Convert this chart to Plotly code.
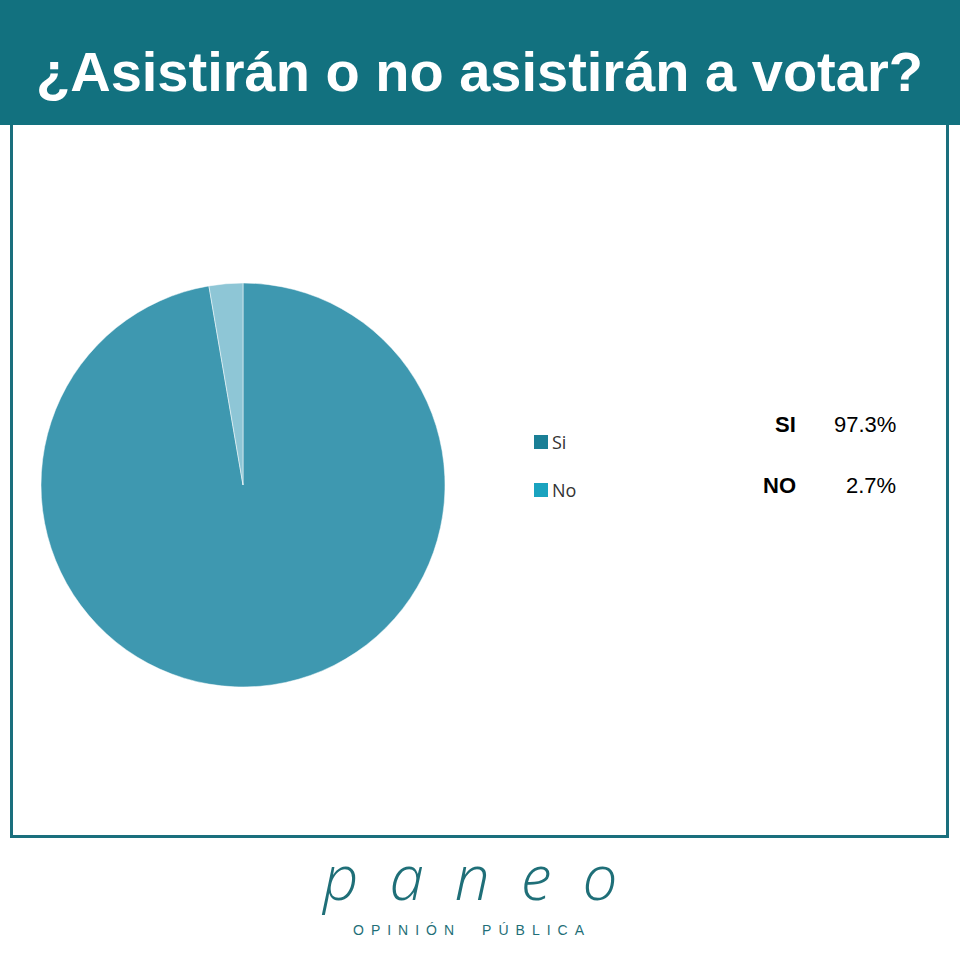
import plotly.graph_objects as go

# Data
title_text = "¿Asistirán o no asistirán a votar?"
categories = ["Si", "No"]
values = [97.3, 2.7]
summary_labels = ["SI", "NO"]
summary_values = ["97.3%", "2.7%"]
pie_colors = ["#3e98b0", "#8ec6d6"]
legend_colors = ["#1a7f96", "#1aa3bf"]
logo_text = "paneo"
logo_sub = "OPINIÓN PÚBLICA"

W = H = 960
def px(x):
    return x / W
def py(y):
    return 1 - y / H

teal = "#12717f"

fig = go.Figure()
fig.add_trace(go.Pie(
    labels=categories,
    values=values,
    sort=False,
    direction="clockwise",
    rotation=0,
    marker=dict(colors=pie_colors, line=dict(color="white", width=0.5)),
    textinfo="none",
    hoverinfo="label+percent",
    showlegend=False,
    domain=dict(x=[px(40), px(446)], y=[py(687), py(283)]),
))

shapes = [
    dict(type="rect", xref="paper", yref="paper", x0=0, x1=1, y0=py(125), y1=1,
         fillcolor=teal, line=dict(width=0), layer="below"),
    dict(type="line", xref="paper", yref="paper", x0=px(11.5), x1=px(11.5), y0=py(125), y1=py(837),
         line=dict(color="#1a6f7d", width=3)),
    dict(type="line", xref="paper", yref="paper", x0=px(947.5), x1=px(947.5), y0=py(125), y1=py(837),
         line=dict(color="#1a6f7d", width=3)),
    dict(type="line", xref="paper", yref="paper", x0=px(10), x1=px(949), y0=py(836.5), y1=py(836.5),
         line=dict(color="#1a6f7d", width=3)),
]

annotations = [
    dict(text="<b>" + title_text + "</b>", xref="paper", yref="paper", x=px(479), y=py(72),
         xanchor="center", yanchor="middle", showarrow=False,
         font=dict(family="Liberation Sans, Arial", size=56, color="white")),
]

legend_y = [442, 490]
for i, cat in enumerate(categories):
    shapes.append(dict(type="rect", xref="paper", yref="paper",
                       x0=px(534), x1=px(548), y0=py(legend_y[i] + 7), y1=py(legend_y[i] - 7),
                       fillcolor=legend_colors[i], line=dict(width=0)))
    annotations.append(dict(text=cat, xref="paper", yref="paper", x=px(550), y=py(legend_y[i]),
                            xanchor="left", yanchor="middle", showarrow=False,
                            font=dict(family="Open Sans, Liberation Sans", size=18, color="#333333")))

summary_y = [425, 485]
for i in range(len(summary_labels)):
    annotations.append(dict(text="<b>" + summary_labels[i] + "</b>", xref="paper", yref="paper",
                            x=px(798), y=py(summary_y[i]), xanchor="right", yanchor="middle",
                            showarrow=False,
                            font=dict(family="Liberation Sans, Arial", size=22, color="black")))
    annotations.append(dict(text=summary_values[i], xref="paper", yref="paper",
                            x=px(898), y=py(summary_y[i]), xanchor="right", yanchor="middle",
                            showarrow=False,
                            font=dict(family="Liberation Sans, Arial", size=22, color="black")))

def spaced(s, gap):
    return gap.join(ch if ch != " " else "\u2003" for ch in s)

annotations.append(dict(text=spaced(logo_text, "\u2002"), xref="paper", yref="paper", x=px(469), y=py(876),
                        xanchor="center", yanchor="middle", showarrow=False,
                        font=dict(family="Open Sans", size=62, color="#1f6f78", style="italic", weight=300)))
annotations.append(dict(text=spaced(logo_sub, "\u2002"), xref="paper", yref="paper",
                        x=px(469), y=py(930), xanchor="center", yanchor="middle", showarrow=False,
                        font=dict(family="Liberation Sans, Arial", size=14, color="#1f6f78")))

fig.update_layout(
    width=W, height=H,
    margin=dict(l=0, r=0, t=0, b=0),
    paper_bgcolor="white",
    plot_bgcolor="white",
    shapes=shapes,
    annotations=annotations,
)

fig.write_html("out.html", config={"displayModeBar": False},
               post_script="document.body.style.margin='0';document.body.style.overflow='hidden';")
